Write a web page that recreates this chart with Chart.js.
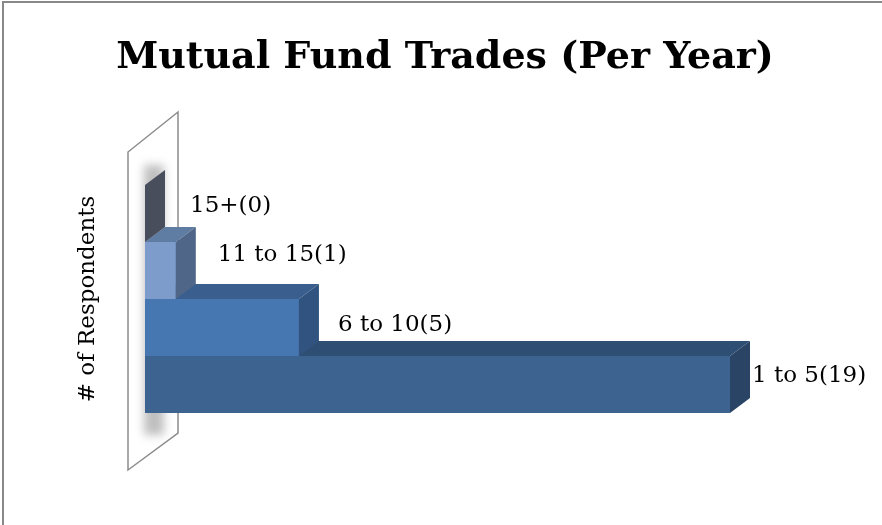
<!DOCTYPE html>
<html>
<head>
<meta charset="utf-8">
<title>Mutual Fund Trades</title>
<script src="https://cdn.jsdelivr.net/npm/chart.js@4.4.0/dist/chart.umd.min.js"></script>
<style>
  html, body { margin: 0; padding: 0; background: #fff; }
  #wrap { position: relative; width: 882px; height: 525px; }
  #frame { position: absolute; left: 2px; top: 1px; right: 0; bottom: 0;
           border-left: 2px solid #888; border-top: 2px solid #888; pointer-events: none; }
</style>
</head>
<body>
<div id="wrap">
  <canvas id="canvas" width="882" height="525"></canvas>
  <div id="frame"></div>
</div>
<script>
// chart data
const chartTitle = 'Mutual Fund Trades (Per Year)';
const axisTitle = '# of Respondents';
const categories = ['1 to 5', '6 to 10', '11 to 15', '15+'];
const respondents = [19, 5, 1, 0];
const axisMax = 19;

// bar colours (front / top / right side) per category
const frontColors = ['#3d6491', '#4677b1', '#7d9ccb', '#4a505e'];
const topColors = ['#2f4e74', '#3a5f8e', '#5f7ca3', '#3f4552'];
const sideColors = ['#2a4466', '#30547f', '#4f6688', '#484e5c'];

const depth = { dx: 20, dy: -15 }; // fake 3d depth
const labelNudge = [[22, -8], [39, -2], [42, -15], [45, -7]]; // where excel put the labels

function poly(ctx, pts, color) {
  ctx.beginPath();
  ctx.moveTo(pts[0][0], pts[0][1]);
  for (let i = 1; i < pts.length; i++) ctx.lineTo(pts[i][0], pts[i][1]);
  ctx.closePath();
  ctx.fillStyle = color;
  ctx.fill();
}

// back wall + shadow behind the bars
const wallPlugin = {
  id: 'wall',
  beforeDatasetsDraw(chart) {
    const ctx = chart.ctx, a = chart.chartArea;
    ctx.save();
    ctx.filter = 'blur(5px)';
    ctx.fillStyle = 'rgba(0,0,0,0.25)';
    ctx.fillRect(a.left - 1, a.top - 20, 20, a.bottom - a.top + 42);
    ctx.restore();

    ctx.save();
    ctx.strokeStyle = '#8c8c8c';
    ctx.lineWidth = 1.5;
    ctx.beginPath();
    ctx.moveTo(a.left - 17, a.bottom + 57);
    ctx.lineTo(a.left + 33, a.bottom + 20);
    ctx.lineTo(a.left + 33, a.top - 73);
    ctx.lineTo(a.left - 17, a.top - 33);
    ctx.closePath();
    ctx.stroke();
    ctx.restore();
  }
};

// draws each bar as a box, bottom to top, then the labels
const boxPlugin = {
  id: 'boxes',
  afterDatasetsDraw(chart) {
    const ctx = chart.ctx;
    const meta = chart.getDatasetMeta(0);
    ctx.save();
    meta.data.forEach((bar, i) => {
      const p = bar.getProps(['x', 'y', 'base', 'height'], true);
      const t = p.y - p.height / 2, b = p.y + p.height / 2;
      const x0 = p.base, x1 = p.x;
      if (x1 > x0) {
        ctx.fillStyle = frontColors[i];
        ctx.fillRect(x0, t, x1 - x0, b - t);
        poly(ctx, [[x0, t], [x1, t], [x1 + depth.dx, t + depth.dy], [x0 + depth.dx, t + depth.dy]], topColors[i]);
      }
      poly(ctx, [[x1, t], [x1 + depth.dx, t + depth.dy], [x1 + depth.dx, b + depth.dy], [x1, b]], sideColors[i]);
    });
    ctx.font = '23px "DejaVu Serif"';
    ctx.fillStyle = '#000';
    ctx.textAlign = 'left';
    ctx.textBaseline = 'middle';
    meta.data.forEach((bar, i) => {
      const p = bar.getProps(['x', 'y'], true);
      ctx.fillText(categories[i] + '(' + respondents[i] + ')', p.x + labelNudge[i][0], p.y + labelNudge[i][1]);
    });
    ctx.restore();
  }
};

const titlePlugin = {
  id: 'bigTitle',
  afterDraw(chart) {
    const ctx = chart.ctx;
    ctx.save();
    ctx.font = 'bold 38px "DejaVu Serif"';
    ctx.fillStyle = '#000';
    ctx.textAlign = 'center';
    ctx.textBaseline = 'alphabetic';
    ctx.fillText(chartTitle, chart.width / 2 + 4, 68);
    ctx.restore();
  }
};

const ctx = document.getElementById('canvas');
new Chart(ctx, {
  type: 'bar',
  data: {
    labels: categories,
    datasets: [{
      label: axisTitle,
      data: respondents,
      backgroundColor: frontColors,
      borderWidth: 0,
      barPercentage: 1,
      categoryPercentage: 1
    }]
  },
  options: {
    indexAxis: 'y',
    responsive: false,
    animation: false,
    devicePixelRatio: 1,
    layout: {
      padding: { left: 60, right: 152, top: 185, bottom: 112 }
    },
    plugins: {
      legend: { display: false },
      title: { display: false },
      tooltip: { enabled: false }
    },
    scales: {
      x: {
        display: false,
        min: 0,
        max: axisMax
      },
      y: {
        reverse: true,
        grid: { display: false },
        border: { display: false },
        ticks: { display: false },
        title: {
          display: true,
          text: axisTitle,
          color: '#000',
          font: { family: 'DejaVu Serif', size: 23 },
          padding: { top: 14, bottom: 0 }
        },
        afterFit(scale) { scale.width = 85; }
      }
    }
  },
  plugins: [wallPlugin, boxPlugin, titlePlugin]
});
</script>
</body>
</html>
